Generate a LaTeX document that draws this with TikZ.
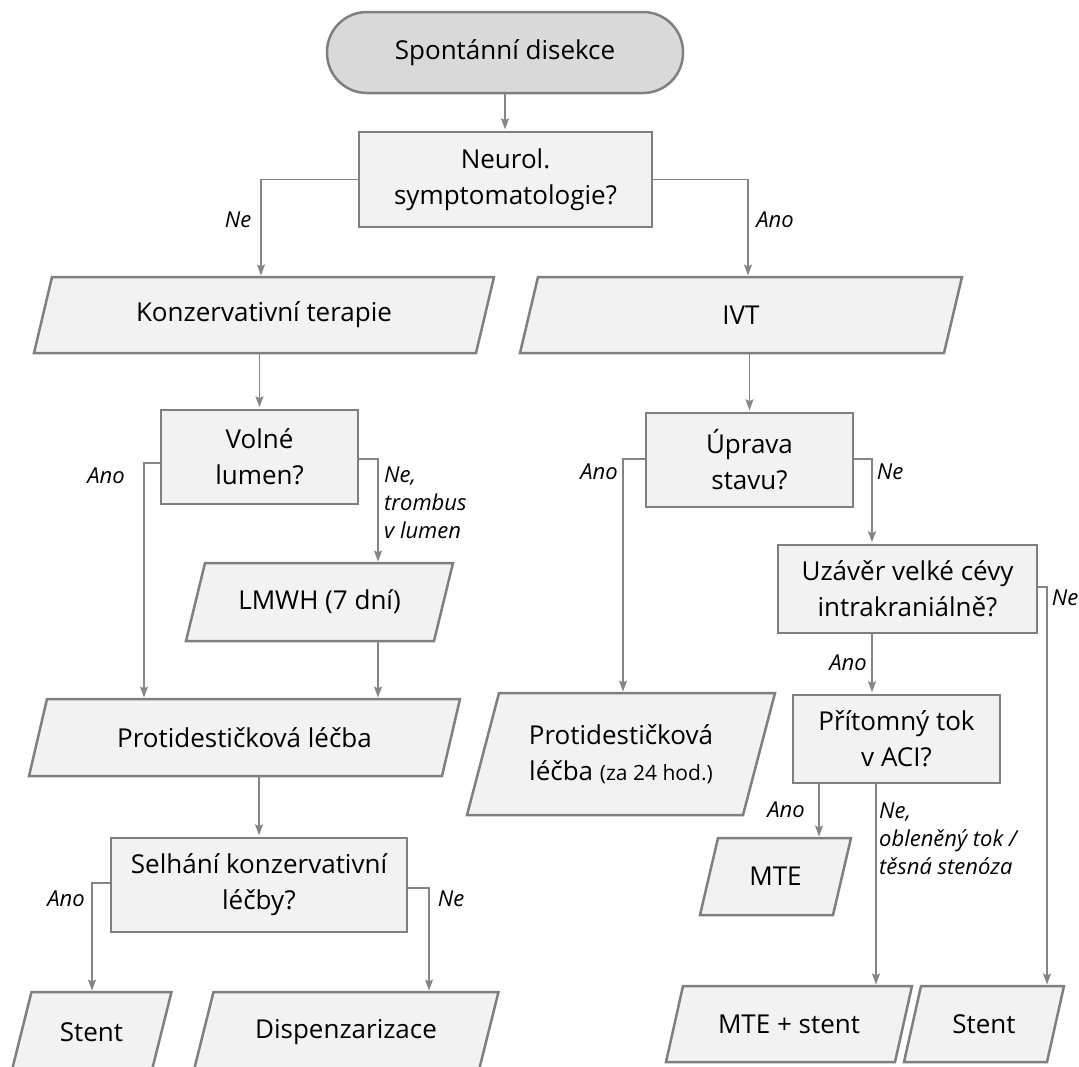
\documentclass[tikz,border=0pt]{standalone}
\usepackage{fontspec}
\setmainfont{Open Sans}
\usetikzlibrary{arrows.meta,backgrounds}
\definecolor{bord}{HTML}{7F7F7F}
\definecolor{boxfill}{HTML}{F2F2F2}
\definecolor{startfill}{HTML}{D9D9D9}
\definecolor{linec}{HTML}{858585}
\begin{document}
\begin{tikzpicture}[x=1pt,y=-1pt,
  every node/.style={font=\fontsize{26}{36}\selectfont, text=black},
  box/.style={rectangle, draw=bord, line width=2.5pt, fill=boxfill, align=center, inner sep=0pt},
  pgm/.style={rectangle, align=center, inner sep=0pt, outer sep=0pt},
  pgmshape/.style={draw=bord, line width=2.5pt, fill=boxfill, line join=miter},
  term/.style={rectangle, rounded corners=40pt, draw=bord, line width=2.5pt, fill=startfill, align=center, inner sep=0pt},
  conn/.style={draw=linec, line width=1.5pt, -{Stealth[length=11pt,width=8pt,inset=2pt]}, shorten >=1.5pt},
  lbl/.style={font=\fontsize{22}{28}\selectfont\itshape, inner sep=0pt},
]
\useasboundingbox (0,0) rectangle (1079,1066);

% nodes
\node[term, minimum width=356pt, minimum height=81pt] (start) at (505,52.5) {Spontánní disekce};
\node[box, minimum width=293pt, minimum height=95pt] (neurol) at (505.5,179.5) {Neurol.\\symptomatologie?};
\node[pgm, minimum width=460pt, minimum height=76pt] (konz) at (264,315) {Konzervativní terapie};
\node[pgm, minimum width=442pt, minimum height=76pt] (ivt) at (741,315) {IVT};
\node[box, minimum width=197pt, minimum height=94pt] (volne) at (259.5,457) {Volné\\lumen?};
\node[pgm, minimum width=267pt, minimum height=78pt] (lmwh) at (319.5,602) {LMWH (7 dní)};
\node[pgm, minimum width=431pt, minimum height=77pt] (protiL) at (244.5,737.5) {Protidestičková léčba};
\node[box, minimum width=296pt, minimum height=94pt] (selhani) at (259,885) {Selhání konzervativní\\léčby?};
\node[pgm, minimum width=160pt, minimum height=80pt] (stentL) at (91.5,1032) {Stent};
\node[pgm, minimum width=305pt, minimum height=80pt] (disp) at (346,1032) {Dispenzarizace};
\node[box, minimum width=207pt, minimum height=94pt] (uprava) at (749.5,460) {Úprava\\stavu?};
\node[box, minimum width=259pt, minimum height=88pt] (uzaver) at (907.5,589) {Uzávěr velké cévy\\intrakraniálně?};
\node[pgm, minimum width=308pt, minimum height=122pt] (protiR) at (621,754) {Protidestičková\\léčba {\fontsize{21}{24}\selectfont (za 24 hod.)}};
\node[box, minimum width=207pt, minimum height=88pt] (pritomny) at (896.5,739) {Přítomný tok\\v ACI?};
\node[pgm, minimum width=151pt, minimum height=77pt] (mte) at (775.5,876.5) {MTE};
\node[pgm, minimum width=246pt, minimum height=76pt] (mtestent) at (789,1024) {MTE + stent};
\node[pgm, minimum width=160pt, minimum height=76pt] (stentR) at (984,1024) {Stent};

% parallelogram outlines behind the texts
\begin{pgfonlayer}{background}
\foreach \n/\s in {konz/18, ivt/18, lmwh/19, protiL/18, stentL/20, disp/20, protiR/32, mte/18, mtestent/17, stentR/17}{
  \path[pgmshape] ([xshift=\s pt]\n.north west) -- (\n.north east) -- ([xshift=-\s pt]\n.south east) -- (\n.south west) -- cycle;
}
\end{pgfonlayer}

% column coordinates
\coordinate (c1) at (261,0);
\coordinate (c2) at (748,0);
\coordinate (c3) at (144,0);
\coordinate (c4) at (378,0);
\coordinate (c5) at (92,0);
\coordinate (c6) at (429,0);
\coordinate (c7) at (623,0);
\coordinate (c8) at (872,0);
\coordinate (c9) at (1047,0);
\coordinate (c10) at (819,0);
\coordinate (c11) at (876,0);

% connectors
\draw[conn] (start.south) -- (start.south |- neurol.north);
\draw[conn] (neurol.west) -| (c1 |- konz.north);
\draw[conn] (neurol.east) -| (c2 |- ivt.north);
\draw[conn] (volne.north |- konz.south) -- (volne.north);
\draw[conn] ([yshift=-6pt]volne.west) -| (c3 |- protiL.north);
\draw[conn] ([yshift=-2pt]volne.east) -| (c4 |- lmwh.north);
\draw[conn] (c4 |- lmwh.south) -- (c4 |- protiL.north);
\draw[conn] (selhani.north |- protiL.south) -- (selhani.north);
\draw[conn] ([yshift=2pt]selhani.west) -| (c5 |- stentL.north);
\draw[conn] ([yshift=-3pt]selhani.east) -| (c6 |- disp.north);
\draw[conn] (uprava.north |- ivt.south) -- (uprava.north);
\draw[conn] ([yshift=1pt]uprava.west) -| (c7 |- protiR.north);
\draw[conn] ([yshift=1pt]uprava.east) -| (c8 |- uzaver.north);
\draw[conn] ([yshift=2pt]uzaver.east) -| (c9 |- stentR.north);
\draw[conn] (c8 |- uzaver.south) -- (c8 |- pritomny.north);
\draw[conn] (c10 |- pritomny.south) -- (c10 |- mte.north);
\draw[conn] (c11 |- pritomny.south) -- (c11 |- mtestent.north);

% labels
\node[lbl] (lNe1) at (238,220) {Ne};
\node[lbl] (lAno1) at (775,220) {Ano};
\node[lbl] (lAno2) at (106,476) {Ano};
\node[lbl, align=left, anchor=west] (lNe2) at (384,503) {Ne,\\trombus\\v lumen};
\node[lbl] (lAno3) at (599,472) {Ano};
\node[lbl] (lNe3) at (890,472) {Ne};
\node[lbl] (lNe4) at (1065,598) {Ne};
\node[lbl] (lAno4) at (848,663) {Ano};
\node[lbl] (lAno5) at (786,810) {Ano};
\node[lbl, align=left, anchor=west] (lNe5) at (879,839) {Ne,\\obleněný tok /\\těsná stenóza};
\node[lbl] (lAno6) at (66,899) {Ano};
\node[lbl] (lNe6) at (451,899) {Ne};
\end{tikzpicture}
\end{document}
